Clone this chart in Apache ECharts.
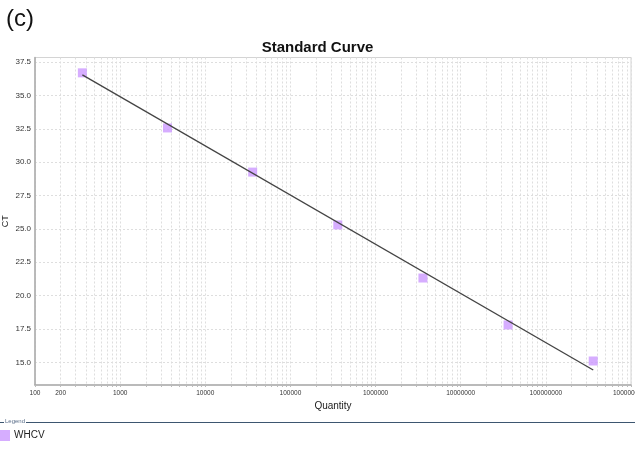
<!DOCTYPE html>
<html>
<head>
<meta charset="utf-8">
<script src="https://cdn.jsdelivr.net/npm/echarts@6/dist/echarts.min.js"></script>
<style>
html,body{margin:0;padding:0;background:#fff;}
#c{width:635px;height:469px;}
</style>
</head>
<body>
<div id="c"></div>
<script>
// Data
var quantities = [360, 3600, 36000, 360000, 3600000, 36000000, 360000000];
var ctValues   = [36.70, 32.57, 29.26, 25.30, 21.32, 17.80, 15.10];
var fitX = [360, 360000000];
var fitY = [36.55, 14.42];
var xLabelValues = [100, 200, 1000, 10000, 100000, 1000000, 10000000, 100000000, 1000000000];
var yLabelValues = [15, 17.5, 20, 22.5, 25, 27.5, 30, 32.5, 35, 37.5];

// vertical grid positions: every 1..9 multiple of each decade
var xGridValues = [];
for (var d = 100; d < 1e9; d *= 10) {
  for (var m = 1; m < 10; m++) xGridValues.push(d * m);
}
xGridValues.push(1e9);

var chart = echarts.init(document.getElementById('c'));
var font = 'Liberation Sans, Arial, sans-serif';
chart.setOption({
  animation: false,
  backgroundColor: '#fff',
  title: {
    text: 'Standard Curve',
    left: 'center',
    top: 35,
    textStyle: {fontFamily: font, fontSize: 15, fontWeight: 'bold', color: '#111'}
  },
  graphic: [
    {type: 'text', left: 6, top: 7, style: {text: '(c)', fontFamily: font, fontSize: 24, fill: '#111'}},
    {type: 'line', shape: {x1: 0, y1: 422.5, x2: 635, y2: 422.5}, style: {stroke: '#3d5670', lineWidth: 1.2}},
    {type: 'rect', shape: {x: 4, y: 419, width: 22, height: 7}, style: {fill: '#fff'}},
    {type: 'text', left: 5, top: 418.5, style: {text: 'Legend', fontFamily: font, fontSize: 6, fill: '#5a6e8a'}}
  ],
  legend: {
    data: ['WHCV'],
    left: 0,
    top: 430,
    itemWidth: 10,
    itemHeight: 11,
    itemGap: 4,
    icon: 'rect',
    textStyle: {fontFamily: font, fontSize: 10, color: '#222', padding: [0, 0, 0, -1]},
    padding: 0
  },
  grid: {
    left: 35, right: 4, top: 57.5, bottom: 84,
    outerBoundsMode: 'none',
    containLabel: false,
    show: true, borderColor: '#d4d4d4', borderWidth: 1
  },
  xAxis: {
    type: 'log',
    logBase: 10,
    min: 100,
    max: 1000000000,
    name: 'Quantity',
    nameLocation: 'middle',
    nameGap: 16,
    nameMoveOverlap: false,
    nameTextStyle: {fontFamily: font, fontSize: 10, color: '#222'},
    axisLine: {lineStyle: {color: '#aaa', width: 1.5}},
    axisTick: {show: true, length: 2, customValues: xGridValues, lineStyle: {color: '#bbb'}},
    axisLabel: {
      customValues: xLabelValues,
      fontFamily: font, fontSize: 6.5, color: '#333', margin: 5,
      formatter: function (v) { return String(Math.round(v)); }
    },
    splitLine: {show: true, lineStyle: {color: '#dedede', type: [2, 2], width: 1}}
  },
  yAxis: {
    type: 'value',
    min: 13.3,
    max: 37.85,
    name: 'CT',
    nameLocation: 'middle',
    nameGap: 25,
    nameMoveOverlap: false,
    nameRotate: 90,
    nameTextStyle: {fontFamily: font, fontSize: 9, color: '#222'},
    axisLine: {show: true, lineStyle: {color: '#aaa', width: 1.5}},
    axisTick: {show: false, customValues: yLabelValues},
    axisLabel: {
      customValues: yLabelValues,
      fontFamily: font, fontSize: 8, color: '#333', margin: 4,
      formatter: function (v) { return v.toFixed(1); }
    },
    splitLine: {show: true, lineStyle: {color: '#dedede', type: [2, 2], width: 1}}
  },
  series: [
    {
      name: 'fit',
      type: 'line',
      data: fitX.map(function (x, i) { return [x, fitY[i]]; }),
      showSymbol: false,
      symbol: 'none',
      lineStyle: {color: '#444', width: 1.3},
      z: 3,
      silent: true
    },
    {
      name: 'WHCV',
      type: 'scatter',
      data: quantities.map(function (x, i) { return [x, ctValues[i]]; }),
      symbol: 'rect',
      symbolSize: 9,
      itemStyle: {color: '#CC99FF'},
      z: 2
    }
  ]
});
</script>
</body>
</html>
